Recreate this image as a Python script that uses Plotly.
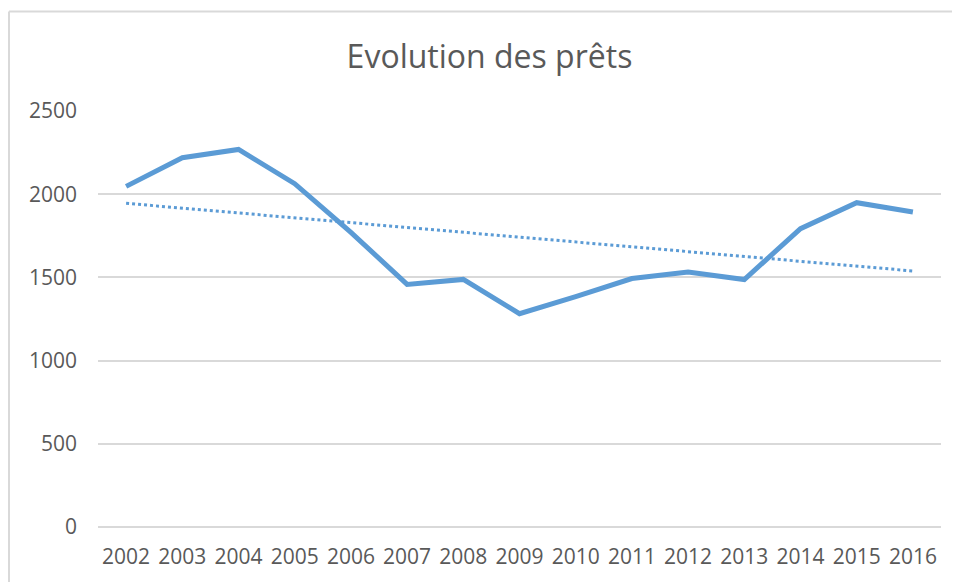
import numpy as np
import plotly.graph_objects as go

years = [2002, 2003, 2004, 2005, 2006, 2007, 2008, 2009, 2010, 2011, 2012, 2013, 2014, 2015, 2016]
prets = [2047, 2219, 2269, 2063, 1771, 1458, 1488, 1282, 1385, 1493, 1532, 1487, 1793, 1949, 1893]
y_ticks = [0, 500, 1000, 1500, 2000, 2500]

# linear trend line fitted on the data
coef = np.polyfit(years, prets, 1)
trend = [coef[0] * yr + coef[1] for yr in years]

line_color = "#5B9BD5"
text_color = "#595959"
grid_color = "#D9D9D9"

fig = go.Figure()
fig.add_trace(go.Scatter(x=years, y=prets, mode="lines",
                         line=dict(color=line_color, width=5),
                         name="Prêts", showlegend=False))
fig.add_trace(go.Scatter(x=years, y=trend, mode="lines",
                         line=dict(color=line_color, width=3, dash="dot"),
                         name="Linéaire (Prêts)", showlegend=False))

OFF = 8  # page body margin
W, H = 960 - OFF, 582 - OFF
L, R, T, B = 98 - OFF, 19, 111 - OFF, 55
pw, ph = W - L - R, H - T - B

def px_x(p):
    return (p - OFF - L) / pw

def px_y(p):
    return (H - B - (p - OFF)) / ph

fig.update_layout(
    width=W, height=H,
    margin=dict(l=L, r=R, t=T, b=B, pad=0),
    paper_bgcolor="white", plot_bgcolor="white",
    font=dict(family="Open Sans", color=text_color, size=20),
    title=dict(text="Evolution des prêts", x=(489.5 - OFF) / W, xanchor="center",
               y=1 - (57 - OFF) / H, yanchor="middle", xref="container", yref="container",
               font=dict(family="Open Sans", size=32, color=text_color)),
    xaxis=dict(range=[2001.5, 2016.5], tickmode="array", tickvals=years,
               ticktext=[str(y) for y in years], showgrid=False, zeroline=False,
               showline=False, ticks="", ticklabelstandoff=15,
               tickfont=dict(size=21, color=text_color)),
    yaxis=dict(range=[0, 2500], tickmode="array", tickvals=y_ticks,
               ticktext=[str(v) for v in y_ticks], showgrid=True,
               gridcolor=grid_color, gridwidth=1.5, zeroline=True,
               zerolinecolor=grid_color, zerolinewidth=1.5, showline=False,
               ticks="", ticklabelstandoff=20,
               tickfont=dict(size=21, color=text_color)),
    shapes=[
        dict(type="line", xref="paper", yref="paper",
             x0=px_x(9), x1=px_x(965), y0=px_y(11.5), y1=px_y(11.5),
             line=dict(color=grid_color, width=2)),
        dict(type="line", xref="paper", yref="paper",
             x0=px_x(9), x1=px_x(9), y0=px_y(11.5), y1=px_y(590),
             line=dict(color=grid_color, width=2)),
    ],
)

fig.write_html("out.html")
